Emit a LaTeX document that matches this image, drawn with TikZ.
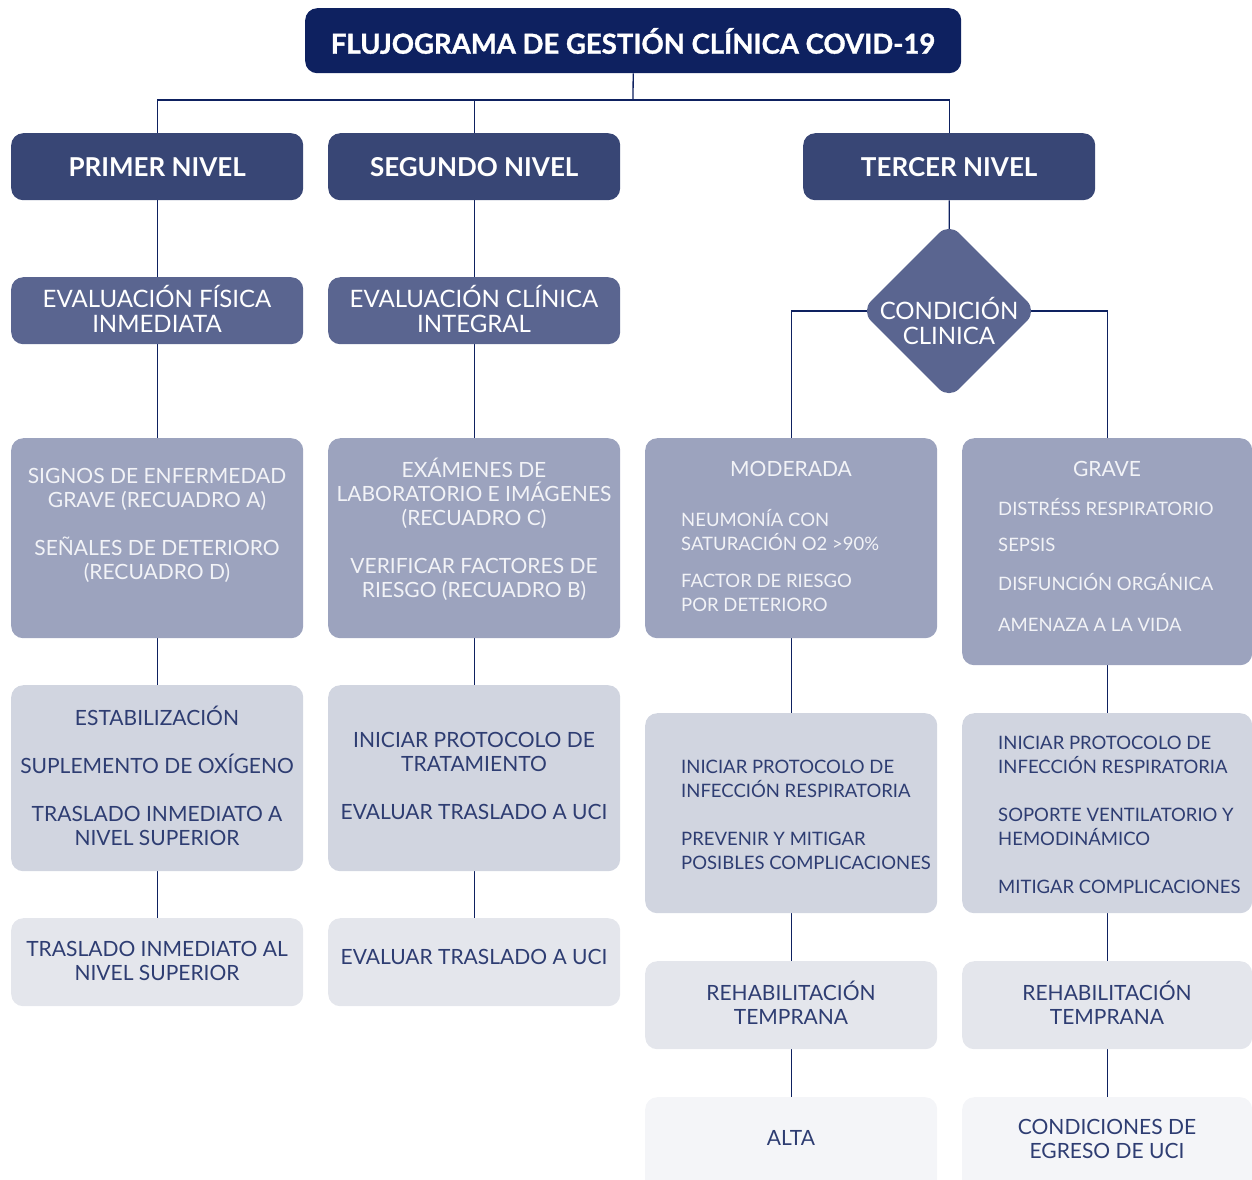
\documentclass[tikz,border=0pt]{standalone}
\usepackage{fontspec}
\setmainfont{Lato}
\newfontfamily\titlefont{Lato}[FakeBold=1.2]
\usetikzlibrary{shapes.geometric,backgrounds}
\definecolor{ctitle}{HTML}{0E2160}
\definecolor{clevel}{HTML}{384675}
\definecolor{ceval}{HTML}{5A6590}
\definecolor{crowc}{HTML}{9CA3BE}
\definecolor{crowd}{HTML}{D1D5E0}
\definecolor{crowe}{HTML}{E4E6EC}
\definecolor{crowf}{HTML}{F4F5F8}
\definecolor{cline}{HTML}{0E2160}
\definecolor{ctxtdark}{HTML}{2E3D72}
\definecolor{ctxtlight}{HTML}{F2F3F7}
\begin{document}
\begin{tikzpicture}[x=1pt,y=-1pt,
  box/.style={rectangle,rounded corners=12pt,inner sep=0pt,anchor=north west,draw=none},
  conn/.style={draw=cline,line width=1.3pt},
  bodyfont/.style={font=\fontsize{21}{24}\selectfont},
  itemfont/.style={font=\fontsize{18.5}{24}\selectfont},
  lighttxt/.style={bodyfont,text=ctxtlight,inner sep=0pt},
  darktxt/.style={bodyfont,text=ctxtdark,inner sep=0pt},
  lightitem/.style={itemfont,text=ctxtlight,inner sep=0pt},
  darkitem/.style={itemfont,text=ctxtdark,inner sep=0pt},
  headtxt/.style={font=\fontsize{26}{30}\selectfont\bfseries,text=white,inner sep=0pt},
  evaltxt/.style={font=\fontsize{24}{25.5}\selectfont,text=white,inner sep=0pt,align=center}
]
\useasboundingbox (0,0) rectangle (1252,1179);
\clip (0,0) rectangle (1252,1179);

% title
\node[box,fill=ctitle,minimum width=656pt,minimum height=65pt] (title) at (305,8) {};
\node[font=\fontsize{27.5}{30}\selectfont\titlefont\bfseries,text=white,inner sep=0pt] (titletxt) at (633,41) {FLUJOGRAMA DE GESTIÓN CLÍNICA COVID-19};

% levels
\node[box,fill=clevel,minimum width=292pt,minimum height=67pt] (lvla) at (11,133) {};
\node[box,fill=clevel,minimum width=292pt,minimum height=67pt] (lvlb) at (328,133) {};
\node[box,fill=clevel,minimum width=292pt,minimum height=67pt] (lvlc) at (803,133) {};
\node[headtxt] (lvlatxt) at (lvla.center) {PRIMER NIVEL};
\node[headtxt] (lvlbtxt) at (lvlb.center) {SEGUNDO NIVEL};
\node[headtxt] (lvlctxt) at (lvlc.center) {TERCER NIVEL};

% evaluation boxes
\node[box,fill=ceval,minimum width=292pt,minimum height=67pt] (eva) at (11,277) {};
\node[box,fill=ceval,minimum width=292pt,minimum height=67pt] (evb) at (328,277) {};
\node[evaltxt] (evatxt) at (157,309) {EVALUACIÓN FÍSICA\\INMEDIATA};
\node[evaltxt] (evbtxt) at (474,309) {EVALUACIÓN CLÍNICA\\INTEGRAL};

% diamond
\node[diamond,aspect=1,fill=ceval,rounded corners=14pt,minimum width=176pt,minimum height=176pt,inner sep=0pt] (dia) at (949,311) {};
\node[evaltxt] (diatxt) at (949,321) {CONDICIÓN\\CLINICA};

% row 3
\node[box,fill=crowc,minimum width=292pt,minimum height=200pt] (ca) at (11,438) {};
\node[box,fill=crowc,minimum width=292pt,minimum height=200pt] (cb) at (328,438) {};
\node[box,fill=crowc,minimum width=292pt,minimum height=200pt] (cc) at (645,438) {};
\node[box,fill=crowc,minimum width=290pt,minimum height=227pt] (cd) at (962,438) {};
\node[lighttxt,align=center] (catxt) at (157,525) {SIGNOS DE ENFERMEDAD\\GRAVE (RECUADRO A)\\[24pt]SEÑALES DE DETERIORO\\(RECUADRO D)};
\node[lighttxt,align=center] (cbtxt) at (474,529) {EXÁMENES DE\\LABORATORIO E IMÁGENES\\(RECUADRO C)\\[24pt]VERIFICAR FACTORES DE\\RIESGO (RECUADRO B)};
\node[lighttxt] (cchead) at (791,469) {MODERADA};
\node[lightitem,align=left,anchor=west] (cctxt) at (681,560) {NEUMONÍA CON\\SATURACIÓN O2 >90\%\\[13pt]FACTOR DE RIESGO\\POR DETERIORO};
\node[lighttxt] (cdhead) at (1107,469) {GRAVE};
\node[lightitem,anchor=west] (cdi) at (998,507) {DISTRÉSS RESPIRATORIO};
\node[lightitem,anchor=west] (cdii) at (998,545) {SEPSIS};
\node[lightitem,anchor=west] (cdiii) at (998,582) {DISFUNCIÓN ORGÁNICA};
\node[lightitem,anchor=west] (cdiv) at (998,625) {AMENAZA A LA VIDA};

% row 4
\node[box,fill=crowd,minimum width=292pt,minimum height=186pt] (da) at (11,685) {};
\node[box,fill=crowd,minimum width=292pt,minimum height=186pt] (db) at (328,685) {};
\node[box,fill=crowd,minimum width=292pt,minimum height=200pt] (dc) at (645,713) {};
\node[box,fill=crowd,minimum width=290pt,minimum height=200pt] (dd) at (962,713) {};
\node[darktxt,align=center] (datxt) at (157,776) {ESTABILIZACIÓN\\[24pt]SUPLEMENTO DE OXÍGENO\\[24pt]TRASLADO INMEDIATO A\\NIVEL SUPERIOR};
\node[darktxt,align=center] (dbtxt) at (474,776) {INICIAR PROTOCOLO DE\\TRATAMIENTO\\[24pt]EVALUAR TRASLADO A UCI};
\node[darkitem,align=left,anchor=west] (dctxt) at (681,815) {INICIAR PROTOCOLO DE\\INFECCIÓN RESPIRATORIA\\[24pt]PREVENIR Y MITIGAR\\POSIBLES COMPLICACIONES};
\node[darkitem,align=left,anchor=west] (ddtxt) at (998,815) {INICIAR PROTOCOLO DE\\INFECCIÓN RESPIRATORIA\\[24pt]SOPORTE VENTILATORIO Y\\HEMODINÁMICO\\[24pt]MITIGAR COMPLICACIONES};

% row 5
\node[box,fill=crowe,minimum width=292pt,minimum height=88pt] (ea) at (11,918) {};
\node[box,fill=crowe,minimum width=292pt,minimum height=88pt] (eb) at (328,918) {};
\node[box,fill=crowe,minimum width=292pt,minimum height=88pt] (ec) at (645,961) {};
\node[box,fill=crowe,minimum width=290pt,minimum height=88pt] (ed) at (962,961) {};
\node[darktxt,align=center] (eatxt) at (157,961) {TRASLADO INMEDIATO AL\\NIVEL SUPERIOR};
\node[darktxt,align=center] (ebtxt) at (474,957) {EVALUAR TRASLADO A UCI};
\node[darktxt,align=center] (ectxt) at (791,1003) {REHABILITACIÓN\\TEMPRANA};
\node[darktxt,align=center] (edtxt) at (1107,1003) {REHABILITACIÓN\\TEMPRANA};

% row 6
\node[box,fill=crowf,minimum width=292pt,minimum height=100pt] (fc) at (645,1097) {};
\node[box,fill=crowf,minimum width=290pt,minimum height=100pt] (fd) at (962,1097) {};
\node[darktxt,align=center] (fctxt) at (791,1138) {ALTA};
\node[darktxt,align=center] (fdtxt) at (1107,1139) {CONDICIONES DE\\EGRESO DE UCI};

% connectors
\begin{pgfonlayer}{background}
\coordinate (junc) at (633,100);
\draw[conn] (title.south) -- (junc);
\draw[conn] (lvla.north) -- (lvla.north |- junc) -- (lvlc.north |- junc) -- (lvlc.north);
\draw[conn] (lvlb.north) -- (lvlb.north |- junc);
\draw[conn] (lvla.south) -- (eva.north);
\draw[conn] (lvlb.south) -- (evb.north);
\draw[conn] (lvlc.south) -- (dia.center);
\draw[conn] (eva.south) -- (ca.north);
\draw[conn] (evb.south) -- (cb.north);
\draw[conn] (dia.center) -| (cc.north);
\draw[conn] (dia.center) -| (cd.north);
\draw[conn] (ca.south) -- (da.north);
\draw[conn] (cb.south) -- (db.north);
\draw[conn] (cc.south) -- (dc.north);
\draw[conn] (cd.south) -- (dd.north);
\draw[conn] (da.south) -- (ea.north);
\draw[conn] (db.south) -- (eb.north);
\draw[conn] (dc.south) -- (ec.north);
\draw[conn] (dd.south) -- (ed.north);
\draw[conn] (ec.south) -- (fc.north);
\draw[conn] (ed.south) -- (fd.north);
\end{pgfonlayer}
\end{tikzpicture}
\end{document}
